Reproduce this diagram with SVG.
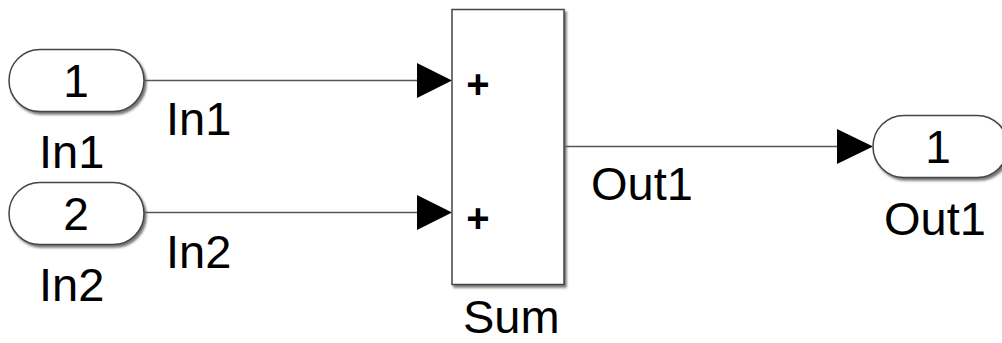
<svg xmlns="http://www.w3.org/2000/svg" width="1002" height="343" viewBox="0 0 1002 343">
<style>
.blk{fill:#fff;stroke:#444;stroke-width:1.5;filter:url(#sh)}
.lbl{font-family:"Liberation Sans",Arial,sans-serif;font-size:47px;fill:#000}
.num{font-family:"Liberation Sans",Arial,sans-serif;font-size:46px;fill:#000;text-anchor:middle}
.plus{font-family:"Liberation Sans",Arial,sans-serif;font-size:40px;font-weight:bold;fill:#000;text-anchor:middle}
.wire{stroke:#555;stroke-width:1.5;fill:none}
.arr{fill:#000}
</style>
<defs>
<filter id="sh" x="-10%" y="-10%" width="130%" height="130%">
<feDropShadow dx="2" dy="2.5" stdDeviation="1.2" flood-color="#555" flood-opacity="0.8"/>
</filter>
</defs>
<rect width="1002" height="343" fill="#fff"/>
<g id="connectors">
<line class="wire" x1="145" y1="80.5" x2="420" y2="80.5"/>
<polygon class="arr" points="417,63 452,80.5 417,98"/>
<line class="wire" x1="145" y1="212.5" x2="420" y2="212.5"/>
<polygon class="arr" points="417,195 452,212.5 417,230"/>
<line class="wire" x1="565" y1="146.5" x2="840" y2="146.5"/>
<polygon class="arr" points="837,129 873,146.5 837,164"/>
<text class="lbl" x="166" y="135">In1</text>
<text class="lbl" x="166" y="268">In2</text>
<text class="lbl" x="591" y="200">Out1</text>
</g>
<g id="In1">
<rect class="blk" x="9" y="49.5" width="135" height="62" rx="31" ry="31"/>
<text class="num" x="76" y="97">1</text>
<text class="lbl" x="39" y="168">In1</text>
</g>
<g id="In2">
<rect class="blk" x="9" y="182.5" width="135" height="62" rx="31" ry="31"/>
<text class="num" x="76" y="230">2</text>
<text class="lbl" x="39" y="301">In2</text>
</g>
<g id="Sum">
<rect class="blk" x="452" y="9.5" width="112" height="275"/>
<text class="plus" x="478" y="98">+</text>
<text class="plus" x="478" y="232">+</text>
<text class="lbl" x="463" y="333">Sum</text>
</g>
<g id="Out1">
<rect class="blk" x="873" y="115.5" width="135" height="62" rx="31" ry="31"/>
<text class="num" x="938" y="163">1</text>
<text class="lbl" x="884" y="235">Out1</text>
</g>
</svg>
